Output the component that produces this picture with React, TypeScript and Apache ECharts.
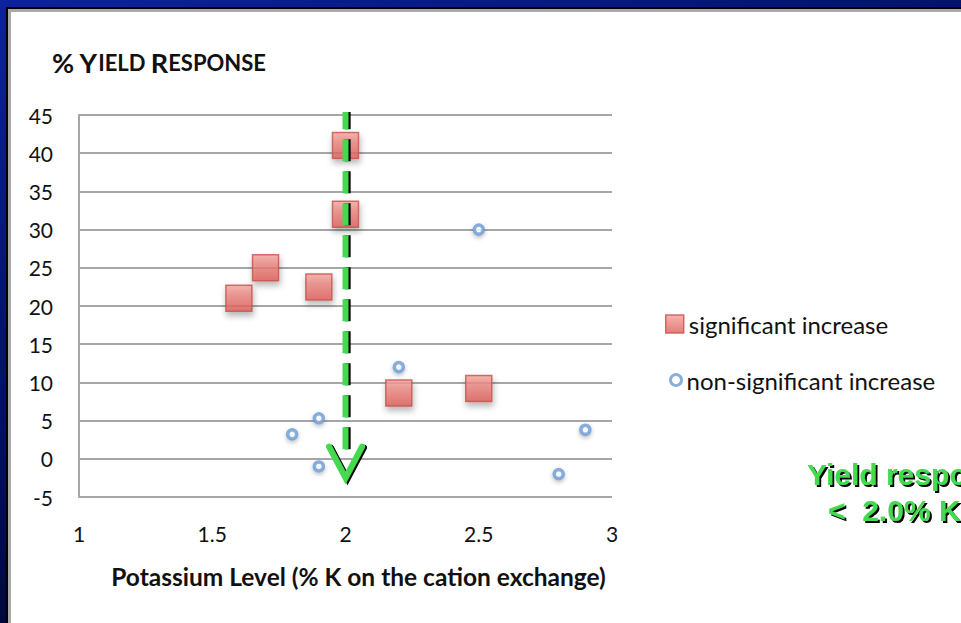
import React, { useEffect, useRef } from "react";
import * as echarts from "echarts";

// ---- data ----
const sigNames = "significant increase";
const nonNames = "non-significant increase";
const sigX = [1.6, 1.7, 1.9, 2.0, 2.0, 2.2, 2.5];
const sigY = [21, 25, 22.5, 41, 32, 8.6, 9.2];
const nonX = [1.8, 1.9, 1.9, 2.2, 2.5, 2.8, 2.9];
const nonY = [3.2, 5.3, -1, 12, 30, -2, 3.8];
const yTicks = { min: -5, max: 45, interval: 5 };
const xTicks = { min: 1, max: 3, interval: 0.5 };
const arrowX = 2;
const arrowShadowX = 2.008;
const arrowTop = 46;
const arrowShaftEnd = 1.2;
const arrowTip = -2.5;
const arrowArmY = 1.6;
const arrowArmDX = 0.062;
const noteLines = ["Yield response", "<  2.0% K"];

const FONT = "Lato, 'Open Sans', sans-serif";

export default function App() {
  const ref = useRef<HTMLDivElement>(null);

  useEffect(() => {
    if (!ref.current) return;
    const chart = echarts.init(ref.current, undefined, { renderer: "svg" });
    const sigData = sigX.map((x, i) => [x, sigY[i]]);
    const nonData = nonX.map((x, i) => [x, nonY[i]]);
    const shaft = [
      [arrowX, arrowTop],
      [arrowX, arrowShaftEnd],
    ];
    const shaftShadow = [
      [arrowShadowX, arrowTop],
      [arrowShadowX, arrowShaftEnd],
    ];
    const head = [
      [arrowX - arrowArmDX, arrowArmY],
      [arrowX, arrowTip],
      [arrowX + arrowArmDX, arrowArmY],
    ];
    const redFill = new echarts.graphic.LinearGradient(0, 0, 0, 1, [
      { offset: 0, color: "#f4a19b" },
      { offset: 1, color: "#de5c56" },
    ]);
    const green = "#45d94f";

    chart.setOption({
      animation: false,
      backgroundColor: "transparent",
      textStyle: { fontFamily: FONT },
      title: {
        left: 52,
        top: 49,
        padding: 0,
        text: "{b|% Y}{s|IELD }{b|R}{s|ESPONSE}",
        textStyle: {
          rich: {
            b: { fontFamily: FONT, fontWeight: "bold", fontSize: 27, color: "#111" },
            s: { fontFamily: FONT, fontWeight: "bold", fontSize: 22, color: "#111" },
          },
        },
      },
      grid: { left: 79, top: 115, right: 349, bottom: 126, containLabel: false },
      xAxis: {
        type: "value",
        min: xTicks.min,
        max: xTicks.max,
        interval: xTicks.interval,
        axisLine: { show: false },
        axisTick: { show: false },
        splitLine: { show: false },
        axisLabel: { margin: 26, fontSize: 21, color: "#111", fontFamily: FONT },
        name: "Potassium Level (% K on the cation exchange)",
        nameLocation: "middle",
        nameGap: 67,
        nameTextStyle: {
          fontSize: 24.5,
          fontWeight: "bold",
          color: "#111",
          fontFamily: FONT,
          padding: [0, 0, 0, 26],
        },
      },
      yAxis: {
        type: "value",
        min: yTicks.min,
        max: yTicks.max,
        interval: yTicks.interval,
        axisLine: { show: true, lineStyle: { color: "#a6a6a6", width: 2 } },
        axisTick: { show: false },
        splitLine: { show: true, lineStyle: { color: "#a6a6a6", width: 2 } },
        axisLabel: { margin: 26, fontSize: 21, color: "#111", fontFamily: FONT },
      },
      legend: [
        {
          orient: "vertical",
          left: 665,
          top: 312,
          padding: 0,
          data: [sigNames],
          itemWidth: 18,
          itemHeight: 18,
          icon: "rect",
          itemStyle: { color: redFill, borderColor: "#c4504b", borderWidth: 1.5 },
          textStyle: { fontSize: 24, color: "#111", fontFamily: FONT },
          selectedMode: false,
        },
        {
          orient: "vertical",
          left: 669,
          top: 368,
          padding: 0,
          data: [nonNames],
          itemWidth: 11,
          itemHeight: 11,
          icon: "circle",
          itemStyle: { color: "#fff", borderColor: "#6b9bd6", borderWidth: 3 },
          textStyle: { fontSize: 24, color: "#111", fontFamily: FONT },
          selectedMode: false,
        },
      ],
      series: [
        {
          name: nonNames,
          type: "scatter",
          data: nonData,
          symbol: "circle",
          symbolSize: 9,
          itemStyle: {
            color: "#ffffff",
            borderColor: "#6b9bd6",
            borderWidth: 3.5,
            shadowColor: "rgba(0,0,0,0.3)",
            shadowBlur: 4,
            shadowOffsetY: 2,
          },
          z: 2,
        },
        {
          name: sigNames,
          type: "scatter",
          data: sigData,
          symbol: "rect",
          symbolSize: 26,
          itemStyle: {
            color: redFill,
            borderColor: "#c4504b",
            borderWidth: 1.5,
            shadowColor: "rgba(0,0,0,0.35)",
            shadowBlur: 6,
            shadowOffsetX: 1,
            shadowOffsetY: 4,
          },
          z: 3,
        },
        {
          name: "arrowShaftShadow",
          type: "line",
          data: shaftShadow,
          showSymbol: false,
          silent: true,
          z: 4,
          lineStyle: { color: "#000", width: 6, type: [22, 10] },
        },
        {
          name: "arrowShaft",
          type: "line",
          data: shaft,
          showSymbol: false,
          silent: true,
          z: 5,
          lineStyle: { color: green, width: 6, type: [22, 10] },
        },
        {
          name: "arrowHead",
          type: "line",
          data: head,
          showSymbol: false,
          silent: true,
          z: 5,
          lineStyle: {
            color: green,
            width: 6,
            cap: "round",
            join: "miter",
            shadowColor: "#000",
            shadowOffsetX: 2,
            shadowOffsetY: 1,
            shadowBlur: 0.5,
          },
        },
      ],
      graphic: [
        {
          type: "text",
          left: 807,
          top: 459,
          style: {
            text: noteLines[0],
            fill: green,
            font: "bold 30px 'Liberation Sans', Arial, sans-serif",
            textShadowColor: "#000",
            textShadowOffsetX: 2,
            textShadowOffsetY: 2,
            textShadowBlur: 1,
          },
        },
        {
          type: "text",
          left: 828,
          top: 495,
          style: {
            text: noteLines[1],
            fill: green,
            font: "bold 30px 'Liberation Sans', Arial, sans-serif",
            textShadowColor: "#000",
            textShadowOffsetX: 2,
            textShadowOffsetY: 2,
            textShadowBlur: 1,
          },
        },
      ],
    });
    return () => chart.dispose();
  }, []);

  return (
    <div
      style={{
        position: "fixed",
        left: 0,
        top: 0,
        width: 961,
        height: 623,
        overflow: "hidden",
        background: "linear-gradient(160deg, #0d22a0 0%, #041577 30%, #01083a 65%, #000016 100%)",
      }}
    >
      <div style={{ position: "absolute", left: 6, top: 7, right: 0, bottom: 0, background: "#000" }} />
      <div style={{ position: "absolute", left: 8, top: 9, right: 0, bottom: 0, background: "#a9a9a9" }} />
      <div style={{ position: "absolute", left: 11, top: 12, right: 0, bottom: 0, background: "#ffffff" }} />
      <div ref={ref} style={{ position: "absolute", left: 0, top: 0, width: 961, height: 623 }} />
    </div>
  );
}
